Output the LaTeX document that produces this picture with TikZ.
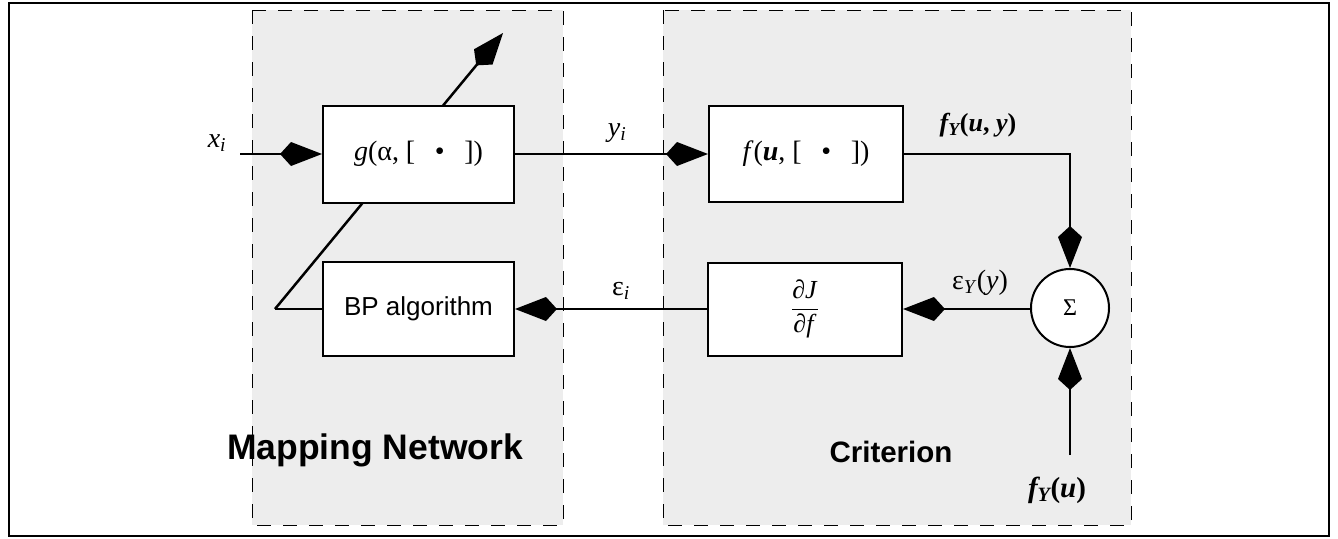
\documentclass[tikz,border=0pt]{standalone}
\usepackage{fontspec}
\setmainfont{Liberation Serif}
\setsansfont{Liberation Sans}
\usetikzlibrary{arrows.meta}
\begin{document}
\begin{tikzpicture}[x=1pt,y=-1pt,
  blk/.style={draw, line width=2pt, fill=white, inner sep=0pt},
  conn/.style={line width=2.5pt},
  kite/.style={-{Kite[length=42pt,width=24pt,inset=11pt]}},
  region/.style={draw, dash pattern=on 14pt off 12pt, line width=1pt, fill=black!7},
  lbl/.style={font=\fontsize{28}{32}\selectfont, inner sep=0pt},
  ttl/.style={font=\sffamily\bfseries, inner sep=0pt}
]
\useasboundingbox (0,0) rectangle (1338,538);
\draw[line width=2pt] (9,3) rectangle (1329,536);
\draw[region] (252,10) rectangle (563,525);
\draw[region] (663,10) rectangle (1131,525);

% feedback diagonal (behind the g box)
\coordinate (fb) at (275,309);
\coordinate (adj) at (503,33);
\draw[conn,kite] (fb) -- (adj);

% blocks
\node[blk, minimum width=191pt, minimum height=97pt, lbl] (g) at (418.5,154)
  {\textit{g}(α, [\hspace{0.7em}•\hspace{0.7em}])};
\node[blk, minimum width=191pt, minimum height=94pt, font=\sffamily\fontsize{26}{30}\selectfont] (BP) at (418.5,309)
  {BP algorithm};
\node[blk, minimum width=194pt, minimum height=96pt, lbl] (f) at (806,154)
  {\textit{f}(\textbf{\textit{u}}, [\hspace{0.7em}•\hspace{0.7em}])};
\node[blk, minimum width=194pt, minimum height=93pt, font=\fontsize{26}{30}\selectfont] (dJ) at (805,309)
  {$\displaystyle\frac{\mbox{\textit{∂J}}}{\mbox{\textit{∂f}}}$};
\node[draw, circle, line width=2pt, fill=white, minimum size=78pt, inner sep=0pt,
  font=\fontsize{24}{28}\selectfont] (S) at (1070,308) {Σ};

% connectors
\coordinate (xin) at (240,154);
\coordinate (fin) at (1070,455);
\draw[conn,kite] (xin) -- (g.west);
\draw[conn] (BP.west) -- (fb);
\draw[conn,kite] (g.east) -- (f.west);
\draw[conn,kite] (f.east) -| (S.north);
\draw[conn,kite] (fin) -- (S.south);
\draw[conn,kite] (S.west |- dJ.east) -- (dJ.east);
\draw[conn,kite] (dJ.west) -- (BP.east);

% labels
\node[lbl] (lx) at (217,143) {\textit{x}\textsubscript{\textit{i}}};
\node[lbl] (ly) at (617,133) {\textit{y}\textsubscript{\textit{i}}};
\node[lbl] (le) at (621,291) {ε\textsubscript{\textit{i}}};
\node[lbl, font=\fontsize{26}{30}\selectfont] (lfuy) at (978,125) {\textbf{\textit{f\textsubscript{Y}}(\textit{u}, \textit{y})}};
\node[lbl] (ley) at (980,283) {ε\textsubscript{\textit{Y}}(\textit{y})};
\node[lbl, font=\fontsize{29}{33}\selectfont] (lfu) at (1057,490) {\textbf{\textit{f\textsubscript{Y}}(\textit{u})}};
\node[ttl, font=\sffamily\bfseries\fontsize{35.5}{40}\selectfont] (tm) at (375,450) {Mapping Network};
\node[ttl, font=\sffamily\bfseries\fontsize{29.5}{34}\selectfont] (tc) at (891,452) {Criterion};
\end{tikzpicture}
\end{document}
